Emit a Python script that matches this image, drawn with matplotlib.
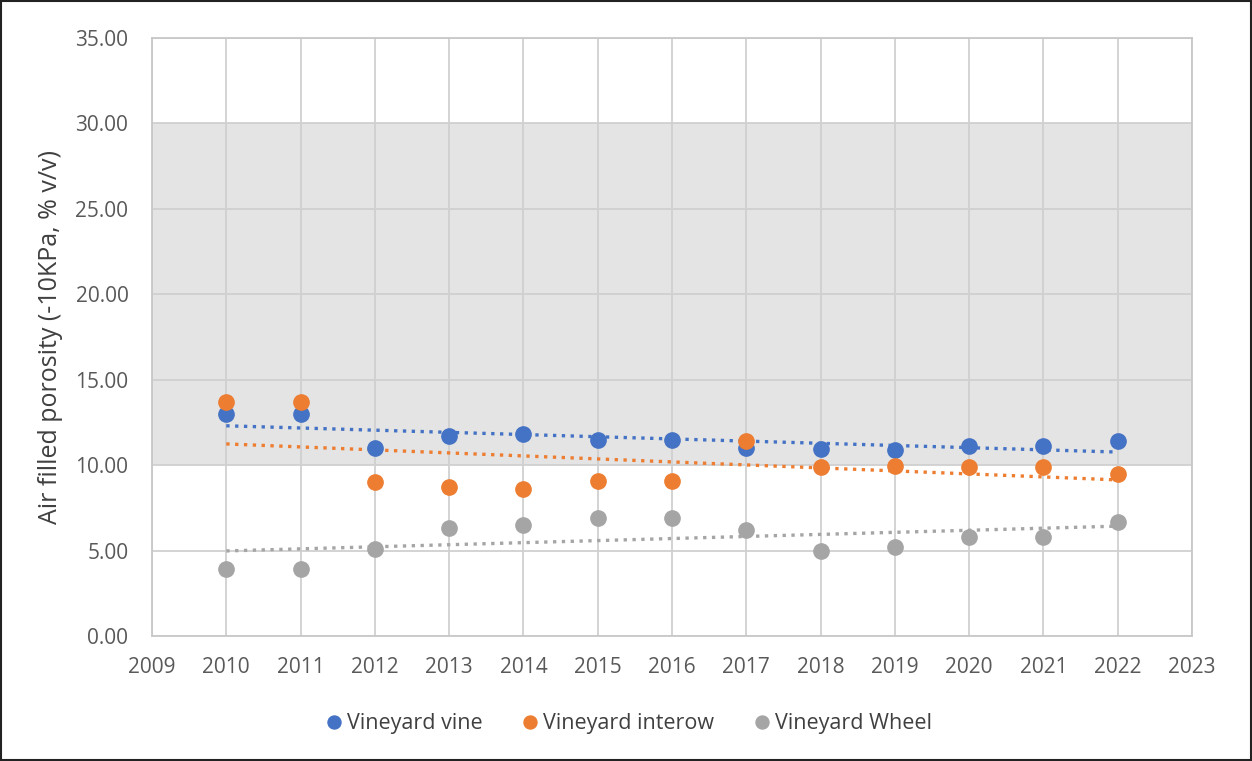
import numpy as np
import matplotlib
matplotlib.use('Agg')
import matplotlib.pyplot as plt
from matplotlib.patches import Rectangle
from matplotlib.ticker import FormatStrFormatter

years = [2010, 2011, 2012, 2013, 2014, 2015, 2016,
         2017, 2018, 2019, 2020, 2021, 2022]
vine = [13.0, 13.0, 11.0, 11.7, 11.8, 11.5, 11.5,
        11.0, 10.95, 10.9, 11.1, 11.1, 11.4]
interow = [13.7, 13.7, 9.0, 8.7, 8.6, 9.1, 9.1,
           11.4, 9.9, 9.95, 9.9, 9.9, 9.5]
wheel = [3.9, 3.9, 5.1, 6.3, 6.5, 6.9, 6.9,
         6.2, 4.95, 5.2, 5.8, 5.8, 6.7]

series = [
    ('Vineyard vine', vine, '#4472C4'),
    ('Vineyard interow', interow, '#ED7D31'),
    ('Vineyard Wheel', wheel, '#A5A5A5'),
]

plt.rcParams['font.family'] = ['Open Sans', 'DejaVu Sans']

fig = plt.figure(figsize=(12.52, 7.61), dpi=100)
ax = fig.add_axes([0.1214, 0.1643, 0.8306, 0.7857])

# optimal band
ax.axhspan(10, 30, color='#e4e4e4', zorder=0, lw=0)

x = np.array(years, dtype=float)
for name, vals, col in series:
    ax.plot(x, vals, 'o', color=col, markersize=11, label=name, zorder=3)
    slope, icpt = np.polyfit(x, vals, 1)
    ax.plot(x[[0, -1]], slope * x[[0, -1]] + icpt, ':', color=col,
            lw=2.4, zorder=2)

ax.set_xlim(2009, 2023)
ax.set_ylim(0, 35)
ax.set_xticks(range(2009, 2024))
ax.set_yticks(np.arange(0, 36, 5))
ax.yaxis.set_major_formatter(FormatStrFormatter('%.2f'))
ax.grid(True, color='#d0d0d0', lw=1.3, zorder=1)
ax.set_axisbelow(True)
for s in ax.spines.values():
    s.set_color('#c8c8c8')
    s.set_linewidth(1.3)
ax.tick_params(length=0, labelsize=15, labelcolor='#595959')
ax.tick_params(axis='y', pad=17)
ax.tick_params(axis='x', pad=15)

ax.set_ylabel('Air filled porosity (-10KPa, % v/v)', fontsize=18,
              color='#404040', labelpad=9)

fig.legend(loc='center', bbox_to_anchor=(0.503, 0.049), ncol=3,
           frameon=False, fontsize=15.5, handlelength=0.6,
           handletextpad=0.3, columnspacing=1.9, markerscale=0.85,
           labelcolor='#404040')

fig.patches.append(Rectangle((0.001, 0.001), 0.998, 0.998,
                             transform=fig.transFigure, fill=False,
                             edgecolor='#222222', lw=1.5))

fig.savefig('out.png', dpi=100)
